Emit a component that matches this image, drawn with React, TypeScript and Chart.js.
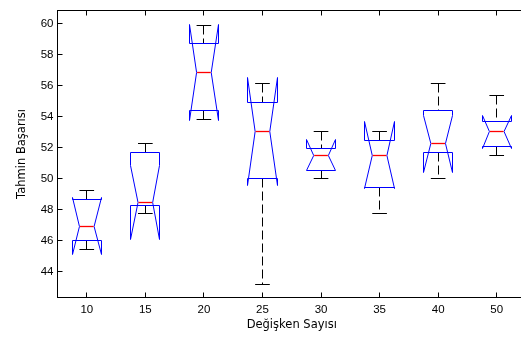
import React, { useEffect, useRef } from 'react';
import { Chart, registerables } from 'chart.js';

Chart.register(...registerables);

// ---- data ----
const categories = ['10', '15', '20', '25', '30', '35', '40', '50'];
const upperWhisker = [49.22, 52.26, 59.89, 56.11, 53.02, 53.02, 56.11, 55.37];
const upperQuartile = [48.67, 51.69, 58.73, 54.93, 51.93, 52.47, 54.38, 53.66];
const medians = [46.94, 48.46, 56.87, 53.02, 51.5, 51.5, 52.24, 53.02];
const lowerQuartile = [46.0, 48.27, 54.38, 50.0, 50.52, 49.42, 51.71, 52.09];
const lowerWhisker = [45.46, 47.74, 53.83, 43.15, 50.0, 47.74, 50.0, 51.5];
const notchHigh = [48.78, 50.85, 59.93, 56.51, 52.5, 53.66, 54.1, 54.08];
const notchLow = [45.1, 46.05, 53.77, 49.55, 50.5, 49.36, 50.38, 51.96];
const yTickValues = [44, 46, 48, 50, 52, 54, 56, 58, 60];
const Y_MIN = 42.37;
const Y_MAX = 60.82;
const xAxisTitle = 'Değişken Sayısı';
const yAxisTitle = 'Tahmin Başarısı';

// ---- styles ----
const BOX_HALF = 0.25;
const NOTCH_HALF = 0.125;
const CAP_HALF = 0.125;
const TICK_LEN = 5;
const BOX_COLOR = '#0000ff';
const MEDIAN_COLOR = '#ff0000';
const WHISKER_COLOR = '#000000';

const snap = (v: number) => Math.floor(v) + 0.5;

const boxPlugin = {
  id: 'notchedBoxes',
  afterDatasetsDraw(chart: any) {
    const { ctx, chartArea, scales } = chart;
    const xs = scales.x;
    const ys = scales.y;
    ctx.save();
    ctx.lineWidth = 1;

    // top frame line
    ctx.strokeStyle = '#000';
    ctx.setLineDash([]);
    ctx.beginPath();
    ctx.moveTo(chartArea.left, snap(chartArea.top));
    ctx.lineTo(chartArea.right, snap(chartArea.top));
    ctx.stroke();

    // inward tick marks
    ctx.beginPath();
    yTickValues.forEach((v) => {
      const py = snap(ys.getPixelForValue(v));
      const lx = snap(chartArea.left);
      ctx.moveTo(lx, py);
      ctx.lineTo(lx + TICK_LEN, py);
      const rx = snap(chartArea.right);
      ctx.moveTo(rx, py);
      ctx.lineTo(rx - TICK_LEN, py);
    });
    categories.forEach((_, i) => {
      const px = snap(xs.getPixelForValue(i + 1));
      const by = snap(chartArea.bottom);
      const ty = snap(chartArea.top);
      ctx.moveTo(px, by);
      ctx.lineTo(px, by - TICK_LEN);
      ctx.moveTo(px, ty);
      ctx.lineTo(px, ty + TICK_LEN);
    });
    ctx.stroke();

    // whiskers, caps and boxes
    categories.forEach((_, i) => {
      const pos = i + 1;
      const cx = xs.getPixelForValue(pos);
      const l = snap(xs.getPixelForValue(pos - BOX_HALF));
      const r = snap(xs.getPixelForValue(pos + BOX_HALF));
      const nl = xs.getPixelForValue(pos - NOTCH_HALF);
      const nr = xs.getPixelForValue(pos + NOTCH_HALF);
      const cl = xs.getPixelForValue(pos - CAP_HALF);
      const cr = xs.getPixelForValue(pos + CAP_HALF);
      const yUW = snap(ys.getPixelForValue(upperWhisker[i]));
      const yQ3 = snap(ys.getPixelForValue(upperQuartile[i]));
      const yMed = snap(ys.getPixelForValue(medians[i]));
      const yQ1 = snap(ys.getPixelForValue(lowerQuartile[i]));
      const yLW = snap(ys.getPixelForValue(lowerWhisker[i]));
      const yNH = snap(ys.getPixelForValue(notchHigh[i]));
      const yNL = snap(ys.getPixelForValue(notchLow[i]));
      const sx = snap(cx);

      ctx.strokeStyle = WHISKER_COLOR;
      ctx.setLineDash([9, 4]);
      ctx.beginPath();
      ctx.moveTo(sx, yUW);
      ctx.lineTo(sx, yQ3);
      ctx.moveTo(sx, yQ1);
      ctx.lineTo(sx, yLW);
      ctx.stroke();

      ctx.setLineDash([]);
      ctx.beginPath();
      ctx.moveTo(cl, yUW);
      ctx.lineTo(cr, yUW);
      ctx.moveTo(cl, yLW);
      ctx.lineTo(cr, yLW);
      ctx.stroke();

      ctx.strokeStyle = BOX_COLOR;
      ctx.beginPath();
      ctx.moveTo(l, yQ3);
      ctx.lineTo(l, yNH);
      ctx.lineTo(nl, yMed);
      ctx.lineTo(l, yNL);
      ctx.lineTo(l, yQ1);
      ctx.lineTo(r, yQ1);
      ctx.lineTo(r, yNL);
      ctx.lineTo(nr, yMed);
      ctx.lineTo(r, yNH);
      ctx.lineTo(r, yQ3);
      ctx.closePath();
      ctx.stroke();
    });

    // medians drawn last, on top of everything
    ctx.setLineDash([]);
    ctx.strokeStyle = MEDIAN_COLOR;
    ctx.lineWidth = 1.3;
    categories.forEach((_, i) => {
      const pos = i + 1;
      const nl = xs.getPixelForValue(pos - NOTCH_HALF) + 0.5;
      const nr = xs.getPixelForValue(pos + NOTCH_HALF) - 0.5;
      const yMed = snap(ys.getPixelForValue(medians[i]));
      ctx.beginPath();
      ctx.moveTo(nl, yMed);
      ctx.lineTo(nr, yMed);
      ctx.stroke();
    });

    ctx.restore();
  },
};

export default function App() {
  const canvasRef = useRef<HTMLCanvasElement | null>(null);

  useEffect(() => {
    const canvas = canvasRef.current;
    if (!canvas) return;
    const tickFont = { family: '"Liberation Sans", Arial, sans-serif', size: 11.5 };
    const titleFont = { family: '"DejaVu Sans", sans-serif', size: 11.5 };
    const chart = new Chart(canvas, {
      type: 'scatter',
      data: {
        datasets: [
          {
            data: medians.map((m, i) => ({ x: i + 1, y: m })),
            pointRadius: 0,
            showLine: false,
          },
        ],
      },
      options: {
        animation: false,
        responsive: false,
        maintainAspectRatio: false,
        devicePixelRatio: 1,
        layout: { padding: { top: 6, left: 0, right: 0, bottom: 0 } },
        plugins: {
          legend: { display: false },
          tooltip: { enabled: false },
        },
        scales: {
          x: {
            type: 'linear',
            min: 0.5,
            max: 8.5,
            afterBuildTicks: (scale: any) => {
              scale.ticks = categories.map((_, i) => ({ value: i + 1 }));
            },
            afterFit: (scale: any) => {
              scale.height = 40;
            },
            ticks: {
              autoSkip: false,
              maxRotation: 0,
              padding: 6,
              color: '#000',
              font: tickFont,
              callback: (v: any) => categories[Math.round(Number(v)) - 1] ?? '',
            },
            grid: { display: false, drawTicks: false },
            border: { display: true, color: '#000', width: 1 },
            title: {
              display: true,
              text: xAxisTitle,
              color: '#000',
              font: titleFont,
              padding: { top: 0, bottom: 5 },
            },
          },
          y: {
            type: 'linear',
            min: Y_MIN,
            max: Y_MAX,
            afterBuildTicks: (scale: any) => {
              scale.ticks = yTickValues.map((v) => ({ value: v }));
            },
            afterFit: (scale: any) => {
              scale.width = 57.5;
            },
            ticks: {
              padding: 4,
              color: '#000',
              font: tickFont,
              callback: (v: any) => String(v),
            },
            grid: { display: false, drawTicks: false },
            border: { display: true, color: '#000', width: 1 },
            title: {
              display: true,
              text: yAxisTitle,
              color: '#000',
              font: titleFont,
              padding: { top: 15.5, bottom: 0 },
            },
          },
        },
      },
      plugins: [boxPlugin],
    } as any);
    return () => chart.destroy();
  }, []);

  return (
    <div
      style={{
        position: 'fixed',
        left: 0,
        top: 0,
        width: 521,
        height: 337,
        overflow: 'hidden',
        background: '#fff',
      }}
    >
      <canvas ref={canvasRef} width={526} height={337} style={{ display: 'block' }} />
    </div>
  );
}
